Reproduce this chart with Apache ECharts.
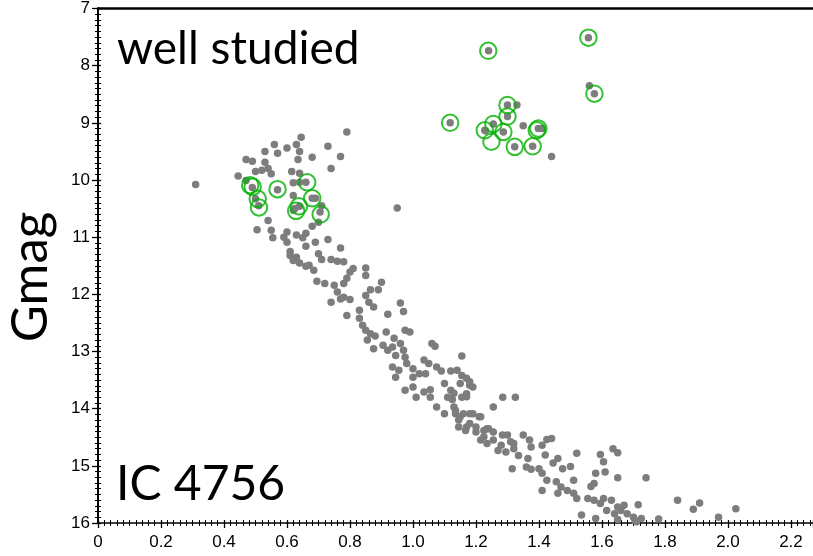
<!DOCTYPE html>
<html><head><meta charset="utf-8">
<script src="https://cdn.jsdelivr.net/npm/echarts@6/dist/echarts.min.js"></script>
<style>html,body{margin:0;padding:0;background:#fff}#c{width:813px;height:556px}</style>
</head><body><div id="c"></div>
<script>
// Colour index (x) and G magnitude (y) of IC 4756 members
const turnoffStars = [
  [0.31,10.08],[0.79,9.16],[0.645,9.25],[0.56,9.38],[0.53,9.50],[0.57,9.53],[0.60,9.44],[0.63,9.38],[0.64,9.50],
  [0.73,9.41],[0.68,9.60],[0.77,9.59],[0.47,9.64],[0.49,9.67],[0.53,9.69],[0.635,9.64],[0.54,9.80],[0.50,9.85],
  [0.52,9.83],[0.55,9.89],[0.445,9.93],[0.615,9.85],[0.64,9.88],[0.74,9.80],[0.47,10.01],[0.62,10.05],[0.64,10.04],
  [0.62,10.27],[0.69,10.32],[0.71,10.45],[0.62,10.53],[0.95,10.49],[0.54,10.71],[0.505,10.87],[0.55,10.88],
  [0.68,10.81],[0.70,10.74],[0.60,10.91],[0.555,11.01],[0.59,11.00],[0.63,10.96],[0.66,10.93],[0.69,11.09],
  [0.73,11.04],[0.60,11.09],[0.65,11.01],[0.66,11.16],[0.77,11.19],[0.61,11.25],[0.63,11.35],[0.70,11.29],
  [0.61,11.32],[0.71,11.39],[0.74,11.39],[0.76,11.42],[0.78,11.43],[0.64,11.45],[0.66,11.51],[0.81,11.55],[0.85,11.54],
  [0.49,10.13],[0.57,10.17],[0.66,10.04],[0.50,10.33],[0.51,10.45],[0.68,10.32],[0.64,10.46],[0.625,10.50],[0.705,10.56]
];
const upperSequence = [
  [0.62,11.41],[0.67,11.49],[0.685,11.58],[0.85,11.67],[0.80,11.61],[0.79,11.72],[0.695,11.77],[0.72,11.81],
  [0.75,11.84],[0.78,11.81],[0.90,11.79],[0.89,11.92],[0.865,11.92],[0.85,12.02],[0.76,11.96],[0.77,12.08],
  [0.74,12.14],[0.80,12.09],[0.78,12.05],[0.86,12.14],[0.875,12.22],[0.96,12.15],[0.97,12.30],[0.92,12.35],
  [0.79,12.37],[0.83,12.28],[0.83,12.42],[0.84,12.54],[0.85,12.63],[0.865,12.69],[0.88,12.73],[0.855,12.80],
  [0.915,12.66],[0.94,12.77],[0.975,12.63],[0.99,12.66],[0.905,12.89],[0.92,12.98],[0.875,12.95],[0.935,12.92],
  [0.96,12.86],[0.97,12.98],[0.945,13.07],[0.975,13.10],[0.98,13.21],[0.935,13.27],[0.955,13.33],[0.945,13.45],
  [1.00,13.30],[1.00,13.45],[1.02,13.39],[1.04,13.39],[1.06,12.86],[1.07,12.91],[1.155,13.08],[1.035,13.15],
  [1.05,13.21],[1.075,13.27],[1.09,13.34],[1.12,13.34],[1.14,13.33],[1.155,13.42],[1.17,13.47]
];
const lowerSequence = [
  [0.975,13.68],[1.00,13.62],[1.01,13.80],[1.035,13.71],[1.055,13.67],[1.055,13.80],[1.10,13.56],[1.12,13.68],
  [1.11,13.80],[1.155,13.80],[1.18,13.53],[1.19,13.62],[1.17,13.74],[1.075,13.97],[1.10,14.09],[1.13,13.97],
  [1.135,14.09],[1.145,14.20],[1.16,14.09],[1.19,14.09],[1.215,14.14],[1.17,14.32],[1.18,14.26],[1.20,14.32],
  [1.235,14.35],[1.255,14.41],[1.225,14.49],[1.255,14.55],[1.30,14.46],[1.285,13.80],[1.325,13.80],[1.255,13.97],
  [1.35,14.46],[1.28,14.64],[1.32,14.61],[1.15,13.56],[1.13,13.73],[1.18,13.59],[1.17,13.79],[1.125,13.84],
  [1.135,14.03],[1.15,14.14],[1.18,14.09],[1.21,14.14],[1.145,14.32],[1.167,14.38],[1.20,14.41],[1.225,14.38],
  [1.24,14.35],[1.215,14.55],[1.235,14.61],[1.284,14.46],[1.31,14.58],[1.27,14.73],[1.295,14.76],[1.32,14.70],
  [1.335,14.82],[1.365,14.87],[1.315,15.05],[1.36,15.02],[1.375,15.06],[1.40,15.05],[1.41,15.13],[1.425,15.25],
  [1.455,15.28],[1.47,15.37],[1.49,15.43],[1.51,15.48],[1.52,15.57],[1.41,15.43],[1.46,15.48]
];
const faintEnd = [
  [1.37,14.55],[1.375,14.67],[1.41,14.64],[1.425,14.54],[1.44,14.52],[1.42,14.81],[1.445,14.95],[1.46,14.87],
  [1.475,15.05],[1.50,15.01],[1.52,14.78],[1.51,15.25],[1.595,14.80],[1.605,14.93],[1.61,15.11],[1.58,15.13],
  [1.635,14.70],[1.65,14.77],[1.65,15.21],[1.74,15.21],[1.575,15.31],[1.565,15.36],[1.555,15.57],[1.575,15.60],
  [1.595,15.66],[1.605,15.57],[1.63,15.60],[1.65,15.72],[1.67,15.69],[1.615,15.78],[1.64,15.84],[1.66,15.78],
  [1.68,15.84],[1.70,15.90],[1.705,15.96],[1.715,15.68],[1.535,15.86],[1.58,15.92],[1.65,15.94],[1.725,15.92],
  [1.78,15.93],[1.84,15.60],[1.89,15.76],[1.91,15.65],[1.97,15.90],[2.025,15.75],[1.71,15.98]
];
const giantStars = [
  [1.33,8.69],[1.56,8.35],[1.35,9.05],[1.44,9.59],
  [1.24,7.74],[1.557,7.51],[1.576,8.49],[1.118,9.00],[1.30,8.69],[1.30,8.89],[1.255,9.02],[1.228,9.13],
  [1.287,9.16],[1.323,9.42],[1.38,9.41],[1.398,9.10],[1.41,9.10],[1.23,9.14]
];
// Well-studied stars (green rings)
const wellStudied = [
  [1.239,7.74],[1.557,7.51],[1.576,8.49],[1.118,9.00],[1.30,8.69],[1.30,8.89],[1.255,9.02],[1.228,9.13],
  [1.287,9.16],[1.249,9.33],[1.323,9.42],[1.38,9.41],[1.398,9.10],[1.393,9.13],
  [0.491,10.12],[0.483,10.09],[0.57,10.16],[0.664,10.04],[0.507,10.33],[0.511,10.48],[0.68,10.32],
  [0.638,10.46],[0.629,10.54],[0.707,10.60]
];
const xMin = 0, xMax = 2.27, xStep = 0.2;
const yMin = 7, yMax = 16, yStep = 1;
const panelTitle = 'well studied';
const clusterName = 'IC 4756';
const yName = 'Gmag';

const chart = echarts.init(document.getElementById('c'), null, {renderer:'canvas'});
const tickFont = {fontSize:17, color:'#000', fontFamily:'Liberation Sans, Arial, sans-serif'};
const gray = [].concat(turnoffStars, upperSequence, lowerSequence, faintEnd, giantStars);
chart.setOption({
  animation:false,
  backgroundColor:'#fff',
  grid:{left:98, top:8, width:715, height:515, containLabel:false},
  xAxis:[
    {type:'value', min:xMin, max:xMax, interval:xStep, position:'bottom',
     axisLine:{lineStyle:{color:'#000', width:1.5}},
     axisTick:{inside:false, length:5, lineStyle:{color:'#000', width:1.3}},
     minorTick:{show:true, splitNumber:10, length:3, lineStyle:{color:'#000', width:1}},
     axisLabel:Object.assign({margin:11, showMaxLabel:false,
       formatter:v => v === 0 ? '0' : v.toFixed(1)}, tickFont),
     splitLine:{show:false}, minorSplitLine:{show:false}},
    {type:'value', min:xMin, max:xMax, interval:xStep, position:'bottom',
     axisLine:{show:false},
     axisTick:{inside:true, length:3, lineStyle:{color:'#000', width:1.3}},
     minorTick:{show:true, splitNumber:10, length:3, lineStyle:{color:'#000', width:1}},
     axisLabel:{show:false}, splitLine:{show:false}},
    {type:'value', min:xMin, max:xMax, position:'top',
     axisLine:{lineStyle:{color:'#000', width:2.5}},
     axisTick:{show:false}, axisLabel:{show:false}, splitLine:{show:false}}
  ],
  yAxis:[
    {type:'value', inverse:true, min:yMin, max:yMax, interval:yStep, position:'left',
     axisLine:{lineStyle:{color:'#000', width:2}},
     axisTick:{inside:false, length:6, lineStyle:{color:'#000', width:1.3}},
     minorTick:{show:true, splitNumber:10, length:3, lineStyle:{color:'#000', width:1}},
     axisLabel:Object.assign({margin:8}, tickFont),
     splitLine:{show:false}},
    {type:'value', inverse:true, min:yMin, max:yMax, interval:yStep, position:'left',
     axisLine:{show:false},
     axisTick:{inside:true, length:3, lineStyle:{color:'#000', width:1.3}},
     minorTick:{show:true, splitNumber:10, length:3, lineStyle:{color:'#000', width:1}},
     axisLabel:{show:false}, splitLine:{show:false}}
  ],
  series:[
    {type:'scatter', xAxisIndex:0, yAxisIndex:0, data:gray, symbol:'circle', symbolSize:7.5,
     itemStyle:{color:'#7d7d7d', opacity:1}, silent:true},
    {type:'scatter', xAxisIndex:0, yAxisIndex:0, data:wellStudied, symbol:'circle', symbolSize:16.5,
     itemStyle:{color:'rgba(0,0,0,0)', borderColor:'#00b000', borderWidth:2}, silent:true}
  ],
  graphic:[
    {type:'text', left:117, top:26, style:{text:panelTitle, font:'46px Lato, sans-serif', fill:'#000'}},
    {type:'text', left:116, top:461, style:{text:clusterName, font:'48px Lato, sans-serif', fill:'#000'}},
    {type:'text', x:31, y:277, rotation:Math.PI/2,
     style:{text:yName, font:'51px Lato, sans-serif', fill:'#000', textAlign:'center', textVerticalAlign:'middle'}}
  ]
});
</script>
</body></html>
